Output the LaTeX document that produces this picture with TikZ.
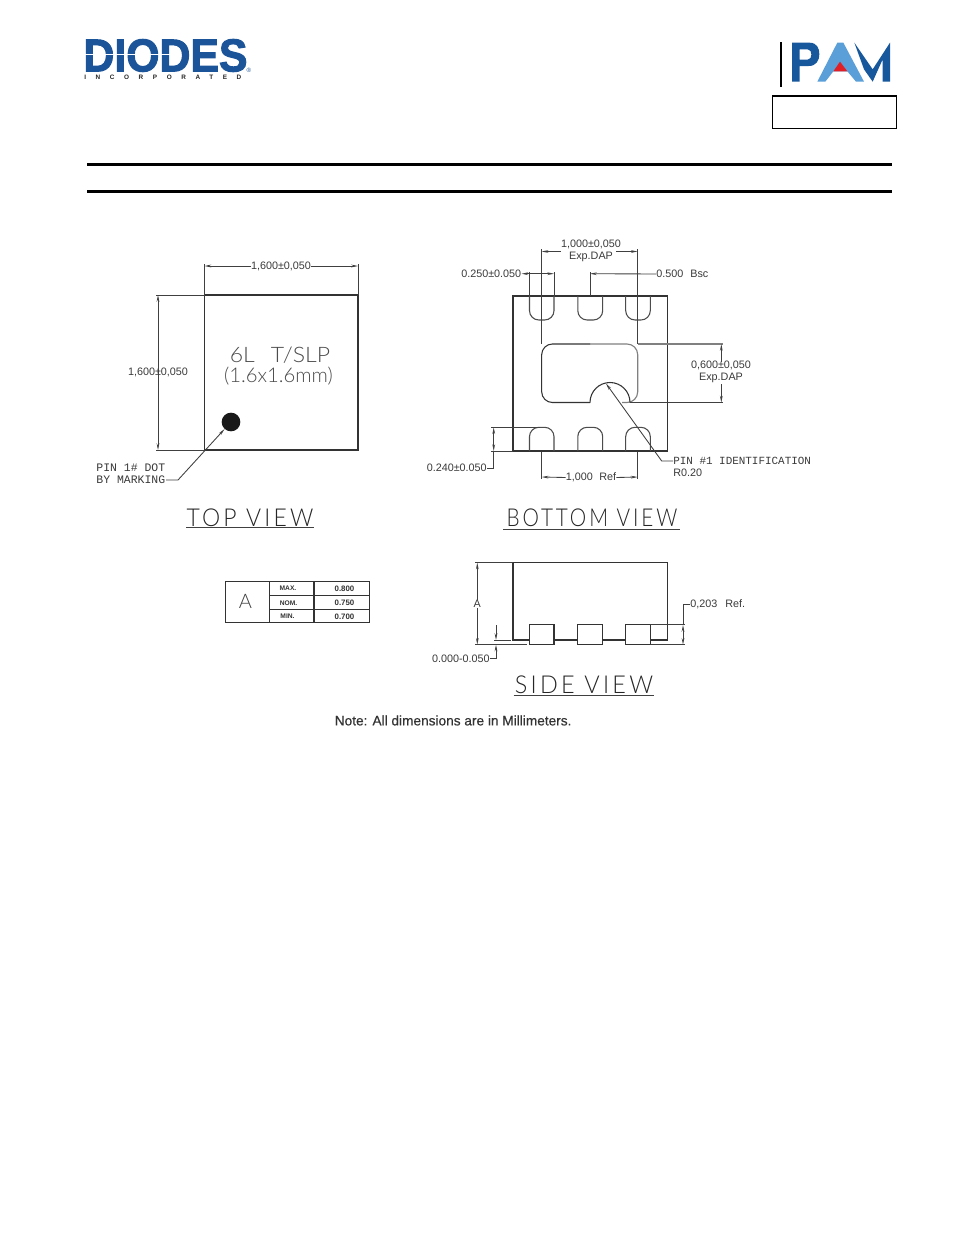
\documentclass[tikz,border=0pt]{standalone}
\usepackage{fontspec}
\setmainfont{Liberation Sans}
\newfontfamily\cadmono{Liberation Mono}
\newfontfamily\cadthin{Lato}[UprightFont=* Light,LetterSpace=14]
\newfontfamily\cadthinb{Lato}[UprightFont=* Light]
\newfontfamily\logofont{Liberation Sans}[UprightFont=* Bold,FakeBold=2.2]
\newfontfamily\incfont{Liberation Sans}[UprightFont=* Bold,LetterSpace=150]
\newfontfamily\notefont{Liberation Sans}[FakeBold=0.35]
\usetikzlibrary{arrows.meta}
\definecolor{dimgray}{HTML}{3A3A3A}
\definecolor{diodesblue}{HTML}{1B5499}
\definecolor{pamdark}{HTML}{17589C}
\definecolor{pamlight}{HTML}{5A9FD8}
\definecolor{pamred}{HTML}{E01F26}
\tikzset{
  x=0.75pt,y=-0.75pt,
  outline/.style={draw=black!80,line width=0.8pt},
  softline/.style={draw=black!50,line width=0.85pt},
  padline/.style={draw=black!70,line width=0.8pt,rounded corners=7pt},
  dimline/.style={draw=black!75,line width=0.65pt},
  dimarrow/.style={dimline,{Stealth[length=5pt,width=2pt]}-{Stealth[length=5pt,width=2pt]}},
  endarrow/.style={dimline,-{Stealth[length=5pt,width=2pt]}},
  startarrow/.style={dimline,{Stealth[length=5pt,width=2pt]}-},
  dimtext/.style={inner sep=0pt,text=dimgray,font=\fontsize{8.1pt}{9pt}\selectfont,align=center},
  labeltext/.style={inner sep=0pt,text=dimgray,font=\cadmono\fontsize{8.2pt}{9pt}\selectfont,align=left},
  viewtitle/.style={inner sep=0pt,text=black!85,font=\cadthin\fontsize{18.5pt}{20pt}\selectfont},
  tabletext/.style={inner sep=0pt,text=black!80,font=\bfseries\fontsize{5pt}{6pt}\selectfont},
  tablenum/.style={inner sep=0pt,text=black!80,font=\bfseries\fontsize{5.9pt}{6pt}\selectfont},
  rulebar/.style={draw=black,line width=2.2pt},
}
\begin{document}
\begin{tikzpicture}
\useasboundingbox[fill=white] (0,0) rectangle (954,1235);

% ---------- Diodes logo
\node[inner sep=0pt,text=diodesblue,font=\logofont\fontsize{34.5pt}{36pt}\selectfont,xscale=0.93,anchor=center] (diodes) at (165.5,55.5) {DIODES};
\draw[white,line width=0.9pt] (84,54.5) -- (170,54.5);
\node[inner sep=0pt,text=diodesblue,font=\fontsize{4.6pt}{5pt}\selectfont] (reg) at (249,70) {®};
\node[inner sep=0pt,text=black!85,font=\incfont\fontsize{4.8pt}{5pt}\selectfont,anchor=west] (inc) at (84,77) {INCORPORATED};

% ---------- PAM logo
\begin{scope}[shift={(760,30)},x=0.25pt,y=-0.25pt]
  \draw[black,line width=0.9pt] (63,36) -- (63,170);
  \fill[pamdark,even odd rule] (96,38) -- (148,38) .. controls (172,38) and (178,56) .. (178,73) .. controls (178,92) and (168,108) .. (146,108) -- (119,108) -- (119,155) -- (96,155) -- cycle
     (119,58) -- (119,89) -- (143,89) .. controls (158,89) and (158,58) .. (143,58) -- cycle;
  \fill[pamlight] (172,155) -- (232,38) -- (250,38) -- (312,155) -- (288,155) -- (262,124) -- (220,124) -- (196,155) -- cycle;
  \fill[pamred] (220,124) -- (240,95) -- (262,124) -- cycle;
  \fill[pamdark] (283,38) -- (338,118) -- (390,38) -- (390,155) -- (368,155) -- (368,88) -- (338,155) -- (312,118) -- cycle;
\end{scope}
\draw[draw=black,line width=1.05pt] (772.5,96) rectangle (896.5,128.5);

% ---------- Rules
\draw[rulebar] (87,164.5) -- (892,164.5);
\draw[rulebar] (87,191.5) -- (892,191.5);

% ---------- TOP VIEW
\draw[outline] (204.5,295) rectangle (358,450);
\draw[dimline] (204.5,264) -- (204.5,295);
\draw[dimline] (358,264) -- (358,295);
\draw[dimline] (156,295) -- (204.5,295);
\draw[dimline] (156,450) -- (204.5,450);
\node[dimtext] (td1) at (281,266) {1,600±0,050};
\draw[startarrow] (204.5,266) -- (td1.west);
\draw[endarrow] (td1.east) -- (358,266);
\draw[dimarrow] (158,295) -- (158,450);
\node[dimtext] (td2) at (158,372) {1,600±0,050};
\node[inner sep=0pt,text=black!70,font=\cadthinb\fontsize{16pt}{16pt}\selectfont,xscale=1.08] (tl1) at (280,355) {6L\hspace{0.7em}T/SLP};
\node[inner sep=0pt,text=black!70,font=\cadthinb\fontsize{15.2pt}{16pt}\selectfont] (tl2) at (278.5,376.5) {(1.6x1.6mm)};
\node[circle,fill=black!90,minimum size=14pt,inner sep=0pt] (dot) at (231,422) {};
\node[labeltext,anchor=east,align=right,font=\cadmono\fontsize{8.6pt}{9pt}\selectfont] (pin1) at (165.5,474) {PIN 1\# DOT\\BY MARKING};
\coordinate (pin1k) at (178,480);
\draw[endarrow] (166,480) -- (pin1k) -- (dot);
\node[viewtitle,xscale=0.93] (tv) at (250,517.5) {TOP VIEW};
\draw[dimline] (186,527.5) -- (314,527.5);

% ---------- BOTTOM VIEW
\draw[outline] (513,296) rectangle (667.5,451);
\foreach \xa/\xb in {529.5/554,577.8/602.7,625.7/650.3}{
  \draw[padline] (\xa,296) -- (\xa,320) -- (\xb,320) -- (\xb,296);
  \draw[padline] (\xa,451) -- (\xa,427.3) -- (\xb,427.3) -- (\xb,451);
}
\draw[softline,rounded corners=8pt] (590,344) -- (637.7,344) -- (637.7,402.5) -- (622,402.5);
\draw[outline,rounded corners=8pt] (590,344) -- (541.7,344) -- (541.7,402.5) -- (590,402.5);
\draw[outline] (590,402.5) arc[start angle=180,end angle=360,radius=20];
% extension lines
\draw[dimline] (541.7,249) -- (541.7,344);
\draw[dimline] (637.7,249) -- (637.7,344);
\draw[dimline] (541.7,452) -- (541.7,479);
\draw[dimline] (637.7,452) -- (637.7,479);
\draw[dimline] (529.5,272) -- (529.5,296);
\draw[dimline] (554,272) -- (554,296);
\draw[dimline] (590,272) -- (590,296);
\draw[softline] (637.7,344) -- (723,344);
\draw[dimline] (630,402.5) -- (723,402.5);
\draw[dimline] (491,427.3) -- (540,427.3);
\draw[dimline] (491,451) -- (513,451);
% dimension labels
\node[dimtext,align=center] (bd1) at (591,251) {1,000±0,050\\[-0.4pt]Exp.DAP};
\draw[startarrow] (541.7,251.5) -- (561,251.5);
\draw[endarrow] (616,251.5) -- (637.7,251.5);
\node[dimtext,anchor=east] (bd2) at (521.5,274) {0.250±0.050};
\draw[dimarrow] (521.5,273.7) -- (554,273.7);
\node[labeltext,anchor=west,font=\fontsize{8.1pt}{9pt}\selectfont] (bd3) at (656,274) {0.500\hspace{0.65em}Bsc};
\draw[startarrow] (590,273.7) -- (bd3.west);
\node[dimtext,align=center] (bd4) at (721,372) {0,600±0,050\\[-0.4pt]Exp.DAP};
\draw[startarrow] (721.3,344) -- (721.3,362);
\draw[endarrow] (721.3,384) -- (721.3,402.5);
\node[dimtext,anchor=east] (bd5) at (487,468) {0.240±0.050};
\draw[dimarrow] (493.7,427.3) -- (493.7,451);
\draw[dimline] (493.7,451) -- (493.7,468) -- (bd5.east);
\node[dimtext] (bd6) at (591,477.5) {1,000\hspace{0.6em}Ref};
\draw[startarrow] (541.7,477) -- (bd6.west);
\draw[endarrow] (bd6.east) -- (637.7,477);
\node[labeltext,anchor=west] (bd7) at (673,461) {PIN \#1 IDENTIFICATION};
\node[dimtext,anchor=west] (bd8) at (673,473) {R0.20};
\coordinate (bd7k) at (661.7,461);
\coordinate (notchtip) at (606,383.5);
\draw[endarrow] (bd7.west) -- (bd7k) -- (notchtip);
\node[viewtitle,xscale=0.84] (bv) at (592,517.5) {BOTTOM VIEW};
\draw[dimline] (503,529) -- (680,529);

% ---------- Table
\draw[outline] (225.5,581.7) rectangle (369.5,622.7);
\draw[outline] (269.5,581.7) -- (269.5,622.7);
\draw[outline] (314,581.7) -- (314,622.7);
\draw[outline] (269.5,595.5) -- (369.5,595.5);
\draw[outline] (269.5,609.5) -- (369.5,609.5);
\node[inner sep=0pt,text=black!75,font=\cadthinb\fontsize{15pt}{16pt}\selectfont] (ta) at (245.5,601.5) {A};
\node[tabletext] (t1a) at (288,588.5) {MAX.};
\node[tabletext] (t2a) at (288.5,602.8) {NOM.};
\node[tabletext] (t3a) at (287.5,616.5) {MIN.};
\node[tablenum] (t1b) at (344.5,588.5) {0.800};
\node[tablenum] (t2b) at (344.5,602.8) {0.750};
\node[tablenum] (t3b) at (344.5,616.5) {0.700};

% ---------- SIDE VIEW
\draw[outline] (650.3,640) -- (667.7,640) -- (667.7,562.7) -- (513,562.7) -- (513,640) -- (529.5,640);
\draw[outline] (554,640) -- (577.8,640);
\draw[outline] (602.7,640) -- (625.7,640);
\draw[outline] (529.5,624.3) rectangle (554,644.7);
\draw[outline] (577.8,624.3) rectangle (602.7,644.7);
\draw[outline] (625.7,624.3) rectangle (650.3,644.7);
\draw[dimline] (475,562.7) -- (513,562.7);
\draw[dimline] (475,644.7) -- (527,644.7);
\draw[dimline] (494,640) -- (511,640);
\draw[dimline] (650.3,624.3) -- (685,624.3);
\draw[dimline] (650.3,644.7) -- (685,644.7);
\node[dimtext] (sa) at (477.3,604) {A};
\draw[startarrow] (477.3,562.7) -- (sa.north);
\draw[endarrow] (sa.south) -- (477.3,644.7);
\node[dimtext,anchor=east] (sd1) at (490,658.5) {0.000-0.050};
\draw[endarrow] (496,625) -- (496,640);
\draw[startarrow] (496,644.7) -- (496,658.5) -- (sd1.east);
\node[dimtext,anchor=west] (sd2) at (690,604) {0,203\hspace{0.75em}Ref.};
\draw[dimarrow] (683,625) -- (683,644.7);
\draw[dimline] (683,625) -- (683,604) -- (sd2.west);
\node[viewtitle,xscale=0.95] (sv) at (584,685) {SIDE VIEW};
\draw[dimline] (513.5,695.5) -- (654,695.5);

% ---------- Note
\node[inner sep=0pt,text=black!80,font=\notefont\fontsize{10.25pt}{11pt}\selectfont,anchor=west] (note) at (334.5,720.5) {Note: All dimensions are in Millimeters.};
\end{tikzpicture}
\end{document}
